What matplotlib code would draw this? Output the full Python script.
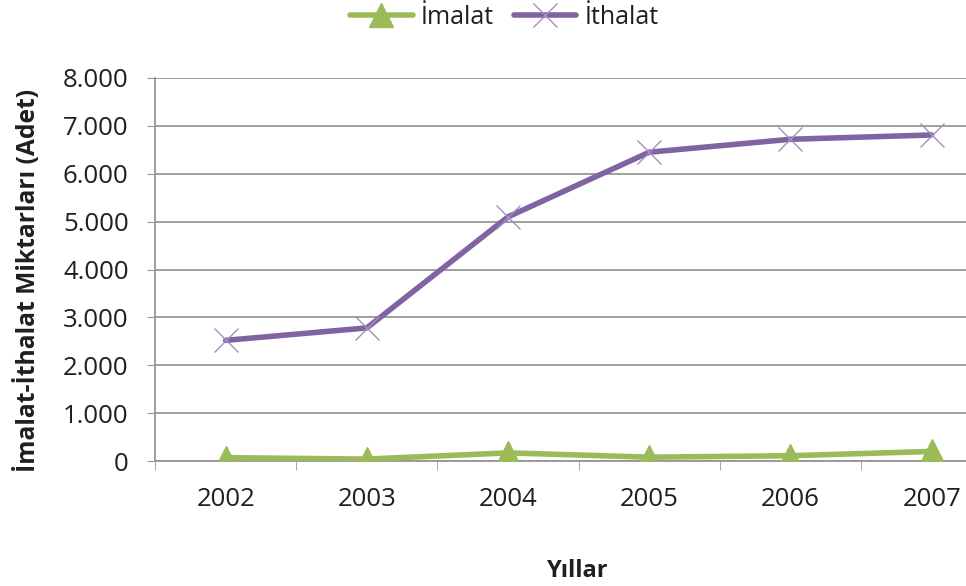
import numpy as np
import matplotlib.pyplot as plt
from matplotlib.ticker import FuncFormatter

# ---------- Data ---------- #
years = ["2002", "2003", "2004", "2005", "2006", "2007"]
imalat = [70, 40, 170, 80, 110, 200]
ithalat = [2520, 2780, 5100, 6450, 6720, 6810]

green = "#9BBB59"
purple = "#8064A2"
grid_c = "#969696"
txt_c = "#1F1F1F"

plt.rcParams['font.family'] = ['Open Sans', 'DejaVu Sans']

fig = plt.figure(figsize=(9.66, 5.86), dpi=100)
ax = fig.add_axes([0.1605, 0.2133, 0.877, 0.6536])

x = np.arange(len(years))
ax.plot(x, imalat, color=green, lw=4, marker="^", markersize=17,
        markerfacecolor=green, markeredgecolor=green, label="İmalat",
        solid_capstyle="round", zorder=3)
ax.plot(x, ithalat, color=purple, lw=4, marker="x", markersize=17,
        markeredgewidth=1.0, markeredgecolor="#A48FC4", label="İthalat",
        solid_capstyle="round", zorder=3)

ax.set_xlim(-0.5, 5.5)
ax.set_ylim(0, 8000)
ax.set_yticks(np.arange(0, 8001, 1000))
ax.yaxis.set_major_formatter(FuncFormatter(lambda v, p: f"{int(v):,}".replace(",", ".")))
ax.set_xticks(x)
ax.set_xticklabels(years)
ax.set_xticks(np.arange(-0.5, 5.6, 1), minor=True)

ax.grid(axis="y", color=grid_c, lw=1.3, zorder=0)
for s in ["top", "right"]:
    ax.spines[s].set_visible(False)
ax.spines["left"].set_color(grid_c)
ax.spines["bottom"].set_color(grid_c)
ax.spines["left"].set_linewidth(1.3)
ax.spines["bottom"].set_linewidth(1.3)

ax.tick_params(axis="y", length=6, color=grid_c, labelsize=18.5, labelcolor=txt_c, pad=13)
ax.tick_params(axis="x", which="major", length=0, labelsize=18.5, labelcolor=txt_c, pad=19)
ax.tick_params(axis="x", which="minor", length=6.5, color=grid_c)

fig.text(28 / 966, 1 - 280 / 586, "İmalat-İthalat Miktarları (Adet)", rotation=90,
         ha="center", va="center", fontsize=17.7, fontweight="bold", color=txt_c)
fig.text(0.5 + (578 - 483) / 966, 9 / 586, "Yıllar", ha="center", va="baseline",
         fontsize=17, fontweight="bold", color=txt_c)

fig.legend(loc="center", bbox_to_anchor=(0.522, 1 - 17 / 586), ncol=2, frameon=False,
           fontsize=18, handlelength=2.5, columnspacing=0.8, handletextpad=0.32,
           labelcolor=txt_c, borderpad=0)

fig.savefig("out.png", dpi=100)
